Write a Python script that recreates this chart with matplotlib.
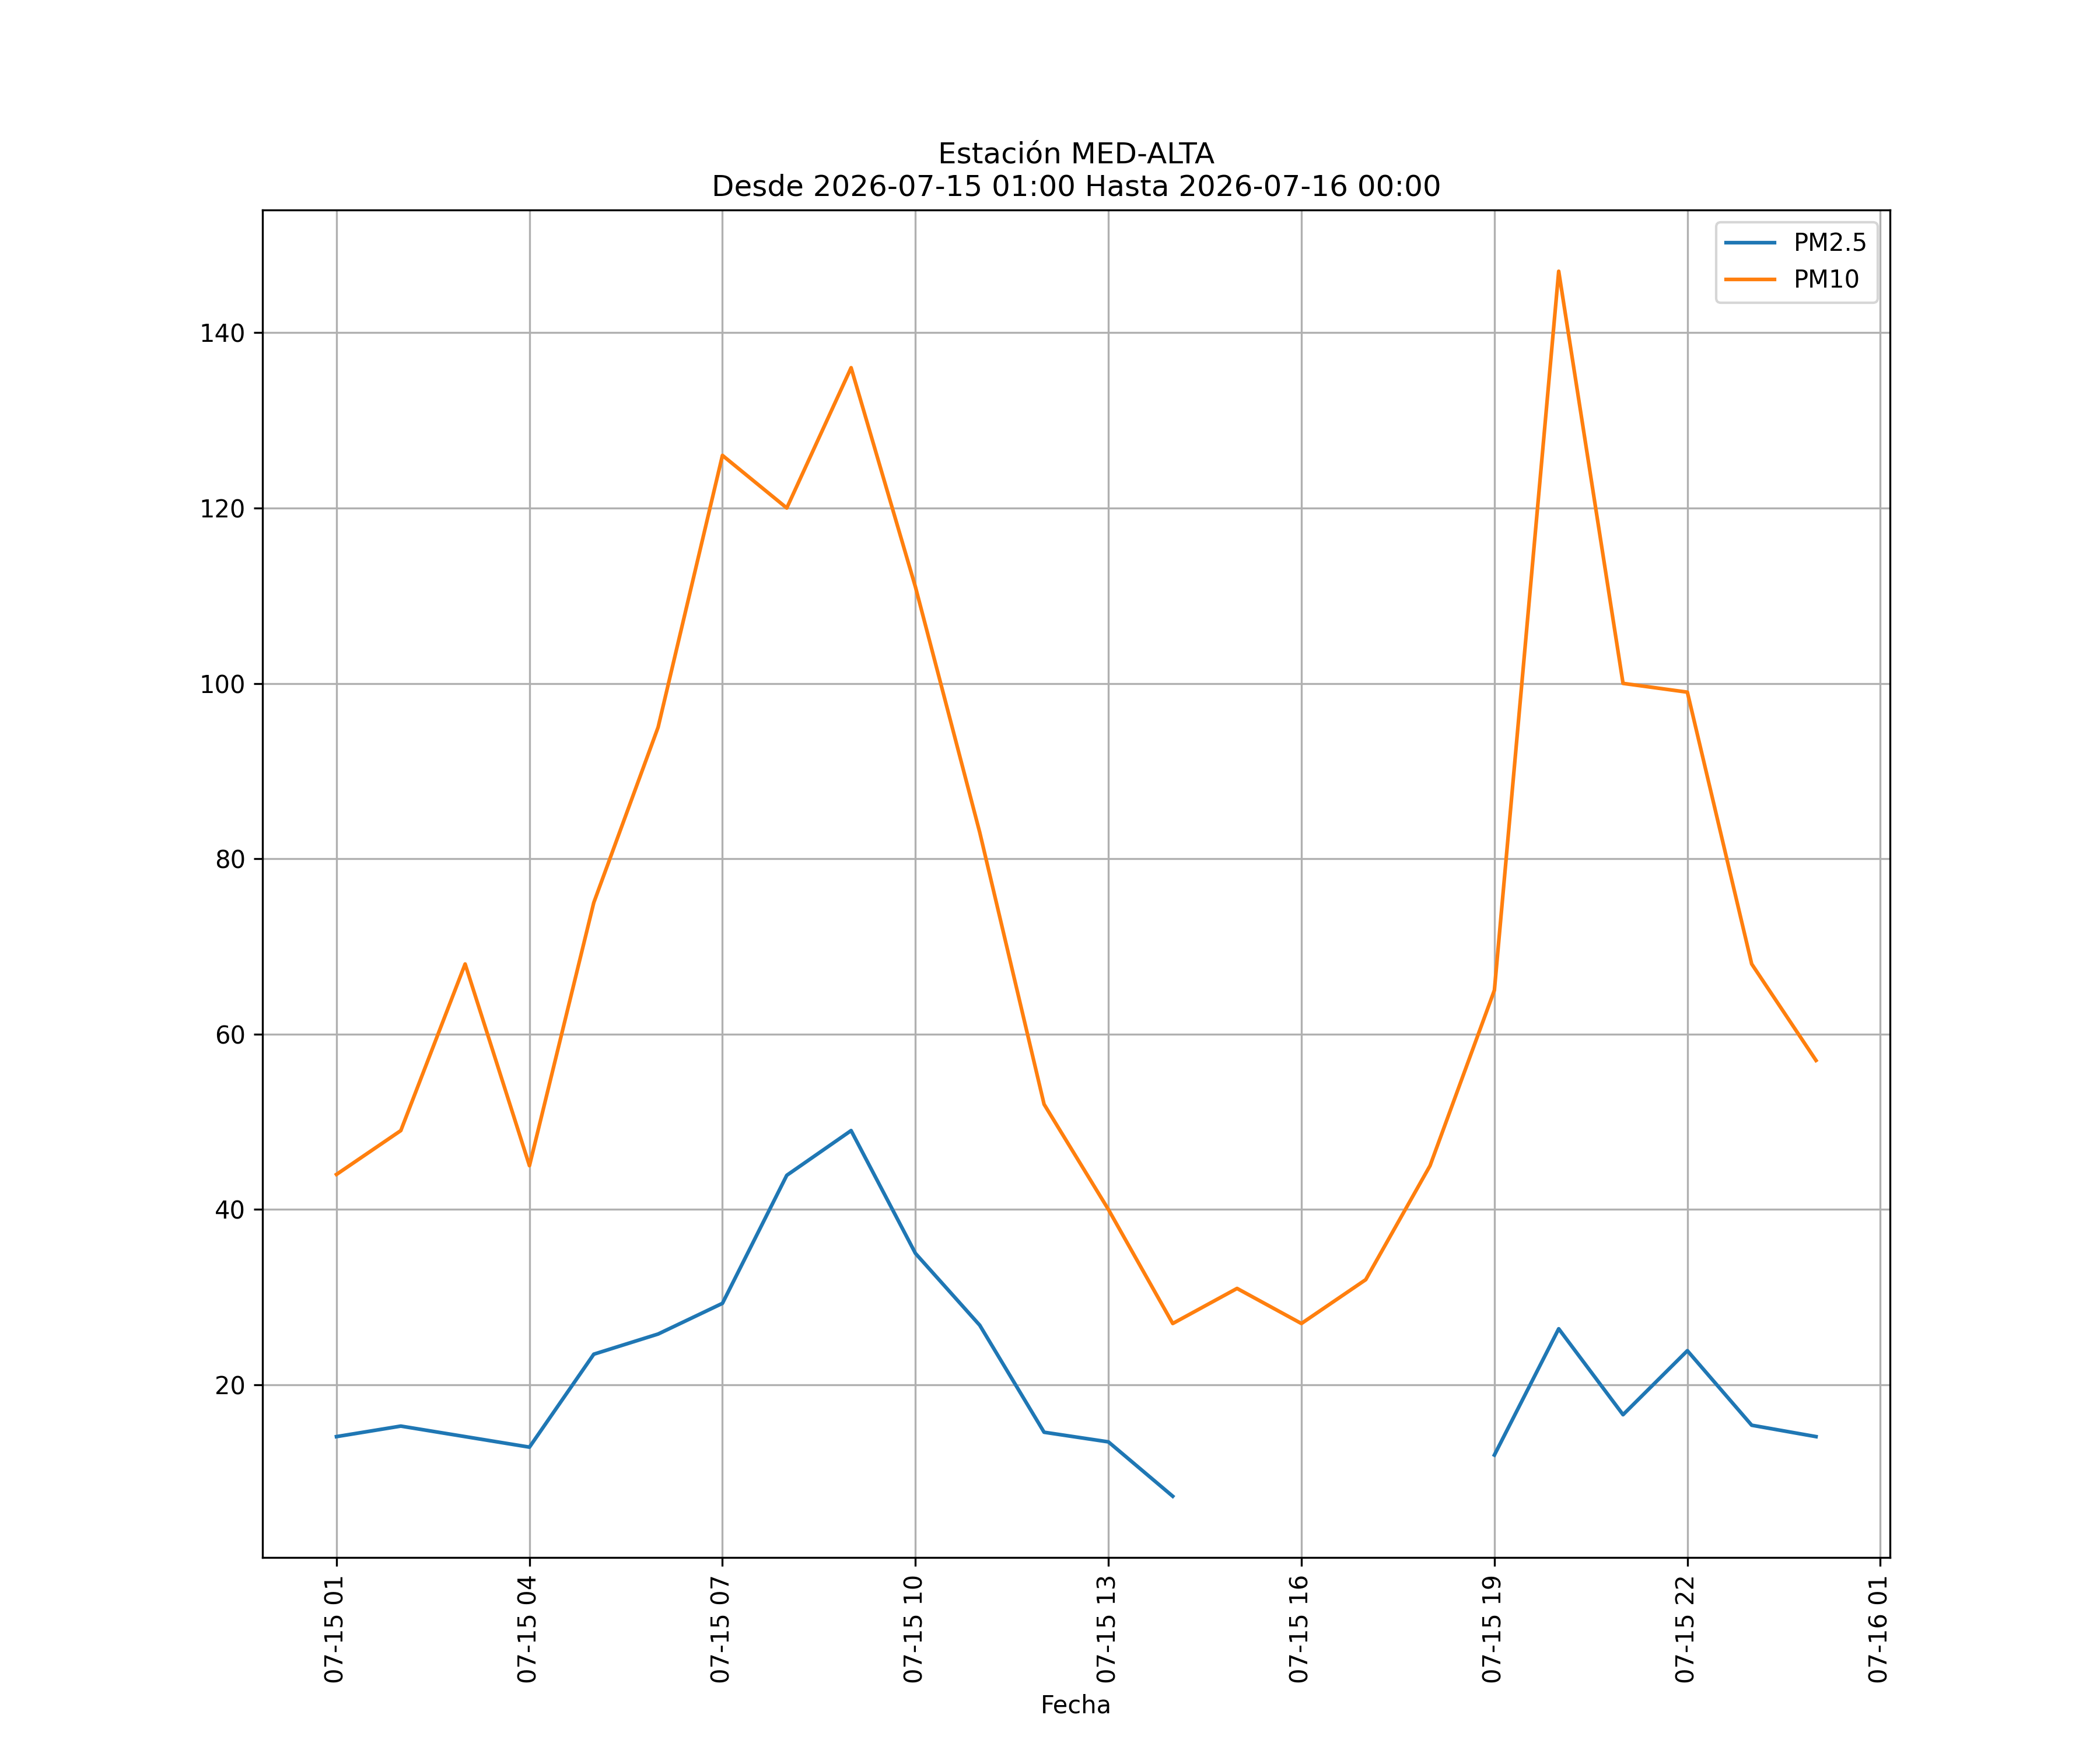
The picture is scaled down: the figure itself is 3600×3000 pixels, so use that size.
import numpy as np
import pandas as pd
import matplotlib
matplotlib.use("Agg")
import matplotlib.pyplot as plt
import matplotlib.dates as mdates

station = "MED-ALTA"
fechas = pd.date_range("2026-07-15 01:00", "2026-07-16 00:00", freq="h")

pm25 = [14.1, 15.3, 14.1, 12.9, 23.5, 25.8, 29.3, 43.9, 49.0, 35.0, 26.8, 14.6,
        13.5, 7.3, np.nan, np.nan, np.nan, np.nan, 12.0, 26.4, 16.6, 23.9, 15.4, 14.1]
pm10 = [44, 49, 68, 45, 75, 95, 126, 120, 136, 111, 83, 52,
        40, 27, 31, 27, 32, 45, 65, 147, 100, 99, 68, 57]

df = pd.DataFrame({"PM2.5": pm25, "PM10": pm10}, index=fechas)

fig, ax = plt.subplots(figsize=(12, 10))
ax.plot(df.index, df["PM2.5"], label="PM2.5")
ax.plot(df.index, df["PM10"], label="PM10")
ax.xaxis.set_major_locator(mdates.HourLocator(byhour=range(1, 24, 3)))
ax.xaxis.set_major_formatter(mdates.DateFormatter("%m-%d %H"))
plt.xticks(rotation=90)
ax.set_xlabel("Fecha")
ax.set_title(f"Estación {station}\nDesde 2026-07-15 01:00 Hasta 2026-07-16 00:00")
ax.grid(True)
ax.legend(loc="upper right")
fig.savefig("out.png", dpi=300)
